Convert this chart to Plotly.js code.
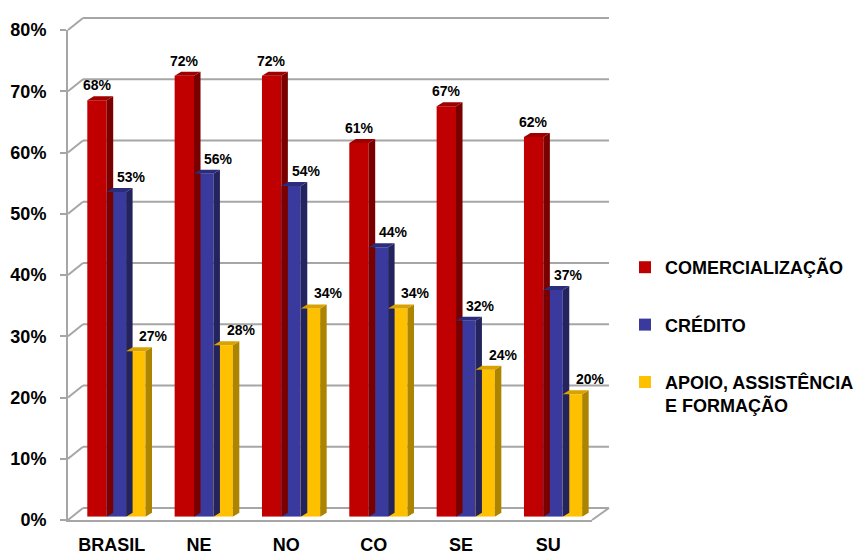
<!DOCTYPE html>
<html>
<head>
<meta charset="utf-8">
<script src="https://cdn.plot.ly/plotly-3.0.1.min.js"></script>
<style>
  html, body { margin: 0; padding: 0; background: #fff; }
  #chart { width: 866px; height: 556px; }
</style>
</head>
<body>
<div id="chart"></div>
<script>
// Regions and series (percent of respondents)
const categories = ['BRASIL', 'NE', 'NO', 'CO', 'SE', 'SU'];
const seriesNames = ['COMERCIALIZAÇÃO', 'CRÉDITO', 'APOIO, ASSISTÊNCIA<br>E FORMAÇÃO'];
const comercializacao = [68, 72, 72, 61, 67, 62];
const credito = [53, 56, 54, 44, 32, 37];
const apoio = [27, 28, 34, 34, 24, 20];
const yTickValues = [0, 10, 20, 30, 40, 50, 60, 70, 80];
const yTickLabels = yTickValues.map(v => v + '%');

const seriesValues = [comercializacao, credito, apoio];

// Styling per series: front, side and top face colours, label nudge (px)
const faceColors = [
  { front: '#c00000', side: '#7a0000', top: '#9e0000' },
  { front: '#3a3a9e', side: '#23235e', top: '#2c2c7c' },
  { front: '#ffc000', side: '#ad8400', top: '#d9a200' }
];
const labelShift = [0, 15, 18];

// Canvas and pseudo-3D frame geometry (pixels)
const W = 866, H = 556;
const front = { left: 68, right: 592, bottom: 520, top: 30 };
const back = { left: 83, right: 609, bottom: 508, top: 18 };
const barBottomPx = 516.7, barTopPx = 26.7;
const yMax = 80;

const fx = p => p / W;
const fy = p => (H - p) / H;

// Bar geometry in axis units
const catPx = (front.right - front.left) / categories.length;
const barW = 19.4 / catPx;
const firstOffset = -0.5 + 19.3 / catPx;
const depthX = 6.5 / catPx;
const depthY = 4 * yMax / (barBottomPx - barTopPx);

const idx = categories.map((_, i) => i);
const traces = [];
const annotations = [];

// The front value axis carries the axis frame itself (no visible marks)
traces.push({
  type: 'scatter', mode: 'markers', x: [0], y: [0], xaxis: 'x', yaxis: 'y',
  marker: { opacity: 0, size: 1 }, showlegend: false, hoverinfo: 'skip'
});

seriesValues.forEach((vals, k) => {
  const off = firstOffset + k * barW;
  const c = faceColors[k];

  traces.push({
    type: 'bar', x: idx, y: vals, width: barW, offset: off,
    xaxis: 'x', yaxis: 'y2',
    name: seriesNames[k], legendgroup: 'g' + k,
    marker: { color: c.front, line: { width: 0 } },
    hoverinfo: 'skip'
  });

  // right-hand side faces
  const sx = [], sy = [];
  // top faces
  const tx = [], ty = [];
  vals.forEach((v, i) => {
    const xl = i + off, xr = i + off + barW;
    sx.push(xr, xr + depthX, xr + depthX, xr, xr, null);
    sy.push(0, depthY, v + depthY, v, 0, null);
    tx.push(xl, xl + depthX, xr + depthX, xr, xl, null);
    ty.push(v, v + depthY, v + depthY, v, v, null);

    annotations.push({
      xref: 'x', yref: 'y2', x: i + off + barW / 2, y: v,
      xanchor: 'center', yanchor: 'bottom', xshift: labelShift[k], yshift: 5,
      text: v + '%', showarrow: false,
      font: { family: 'Liberation Sans, Arial, sans-serif', size: 14, color: '#000', weight: 'bold' }
    });
  });

  traces.push({
    type: 'scatter', mode: 'lines', x: sx, y: sy, fill: 'toself',
    fillcolor: c.side, line: { width: 0, color: c.side },
    xaxis: 'x', yaxis: 'y2', showlegend: false, legendgroup: 'g' + k, hoverinfo: 'skip'
  });
  traces.push({
    type: 'scatter', mode: 'lines', x: tx, y: ty, fill: 'toself',
    fillcolor: c.top, line: { width: 0, color: c.top },
    xaxis: 'x', yaxis: 'y2', showlegend: false, legendgroup: 'g' + k, hoverinfo: 'skip'
  });
});

// Back wall gridlines, their slanted links to the front axis, and floor edge
const gridColor = '#a6a6a6';
const shapes = [];
yTickValues.forEach(t => {
  const yf = front.bottom - t / yMax * (front.bottom - front.top);
  const yb = back.bottom - t / yMax * (back.bottom - back.top);
  shapes.push({ type: 'line', xref: 'paper', yref: 'paper', layer: 'below',
    x0: fx(front.left), y0: fy(yf), x1: fx(back.left), y1: fy(yb),
    line: { color: gridColor, width: 2 } });
  shapes.push({ type: 'line', xref: 'paper', yref: 'paper', layer: 'below',
    x0: fx(back.left), y0: fy(yb), x1: fx(back.right), y1: fy(yb),
    line: { color: gridColor, width: 2 } });
});
shapes.push({ type: 'line', xref: 'paper', yref: 'paper', layer: 'below',
  x0: fx(front.right), y0: fy(front.bottom), x1: fx(back.right), y1: fy(back.bottom),
  line: { color: gridColor, width: 2 } });

const boldFont = (size) => ({ family: 'Liberation Sans, Arial, sans-serif', size: size, color: '#000', weight: 'bold' });
const boundaries = [];
for (let i = 0; i <= categories.length; i++) boundaries.push(i - 0.5);

const layout = {
  width: W, height: H,
  margin: { l: 0, r: 0, t: 0, b: 0, pad: 0 },
  paper_bgcolor: '#fff', plot_bgcolor: 'rgba(0,0,0,0)',
  barmode: 'overlay',
  showlegend: true,
  xaxis: {
    domain: [fx(front.left), fx(front.right)], range: [-0.5, categories.length - 0.5],
    anchor: 'y', tickmode: 'array', tickvals: idx, ticktext: categories,
    ticks: '', showgrid: false, zeroline: false,
    showline: true, linecolor: gridColor, linewidth: 2,
    tickfont: boldFont(18), ticklabelstandoff: 7, automargin: false, fixedrange: true
  },
  xaxis2: {
    overlaying: 'x', anchor: 'y', range: [-0.5, categories.length - 0.5],
    tickmode: 'array', tickvals: boundaries, ticks: 'outside', ticklen: 6,
    tickwidth: 2, tickcolor: gridColor, showticklabels: false,
    showgrid: false, zeroline: false, showline: false, automargin: false, fixedrange: true
  },
  yaxis: {
    domain: [fy(front.bottom), fy(front.top)], range: [0, yMax], anchor: 'x',
    tickmode: 'array', tickvals: yTickValues, ticktext: yTickLabels,
    ticks: 'outside', ticklen: 6, tickwidth: 2, tickcolor: gridColor,
    showline: true, linecolor: gridColor, linewidth: 2,
    showgrid: false, zeroline: false,
    tickfont: boldFont(18), ticklabelstandoff: 10, automargin: false, fixedrange: true
  },
  yaxis2: {
    domain: [fy(barBottomPx), fy(barTopPx)], range: [0, yMax], anchor: 'x',
    visible: false, showgrid: false, zeroline: false, fixedrange: true
  },
  legend: {
    x: fx(625), xanchor: 'left', y: fy(249), yanchor: 'top',
    font: boldFont(18), tracegroupgap: 31, valign: 'top',
    bgcolor: 'rgba(0,0,0,0)', borderwidth: 0
  },
  shapes: shapes,
  annotations: annotations
};

Plotly.newPlot('chart', traces, layout, { displayModeBar: false, staticPlot: true });
</script>
</body>
</html>
